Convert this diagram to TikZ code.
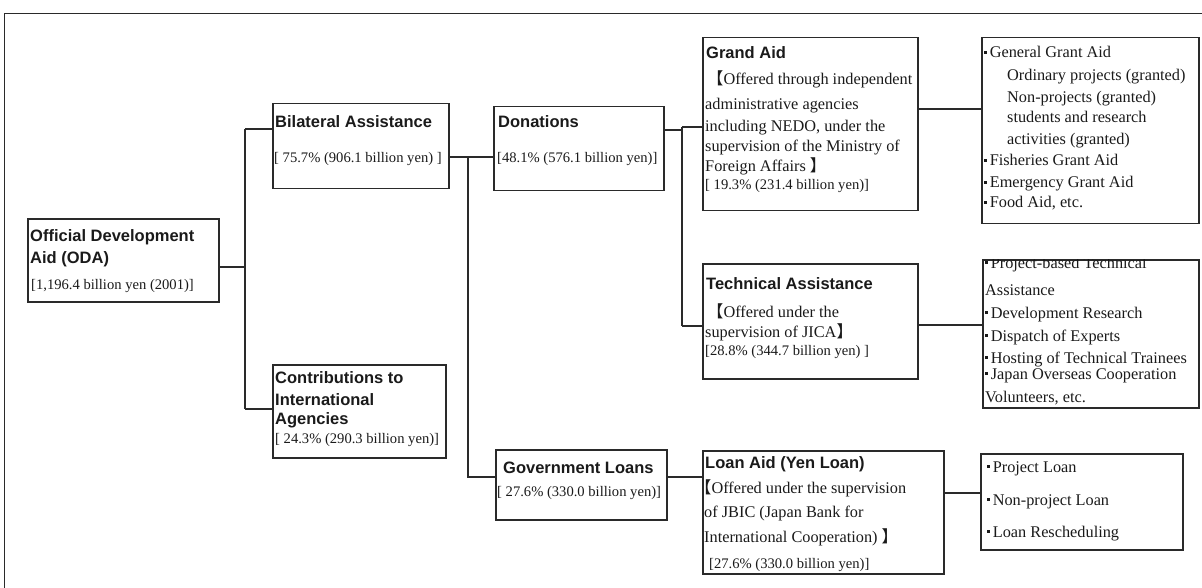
\documentclass[tikz,border=0pt]{standalone}
\usepackage{fontspec}
\setmainfont{Liberation Serif}
\setsansfont{Liberation Sans}
\newfontfamily\cjk{Noto Sans CJK JP}
\newcommand\mybul{\raisebox{4.3pt}{\rule{3pt}{3pt}}\hspace{2.6pt}}
\newcommand\lb{{\cjk 【}}
\newcommand\rb{{\cjk 】}}
\definecolor{ink}{HTML}{1A1A1A}
\definecolor{ln}{HTML}{2A2A2A}
\tikzset{
  box/.style={draw=ln, line width=1.5pt, inner sep=0pt, anchor=north west},
  conn/.style={draw=ln, line width=1.2pt},
  ttl/.style={font=\sffamily\bfseries\fontsize{16.5}{20}\selectfont, text=ink, inner sep=0pt, anchor=base west},
  dsc/.style={font=\fontsize{16.3}{20}\selectfont, text=ink, inner sep=0pt, anchor=base west},
  pct/.style={font=\fontsize{14.6}{18}\selectfont, text=ink, inner sep=0pt, anchor=base west},
  lst/.style={font=\fontsize{16.3}{20}\selectfont, text=ink, inner sep=0pt, anchor=base west}
}
\begin{document}
\begin{tikzpicture}[x=1pt,y=-1pt]
\useasboundingbox (0,0) rectangle (1202,588);
\clip (0,0) rectangle (1202,588);
\draw[draw=ln, line width=0.9pt] (4,13) rectangle (1215,600);

% boxes
\node[box, line width=2.4pt, minimum width=191pt, minimum height=83pt] (oda) at (27,218) {};
\node[box, minimum width=176pt, minimum height=85pt] (bil) at (272,103) {};
\node[box, minimum width=173pt, minimum height=93pt] (con) at (272,364) {};
\node[box, minimum width=170pt, minimum height=84pt] (don) at (493,106) {};
\node[box, minimum width=171pt, minimum height=70pt] (gov) at (495,449) {};
\node[box, minimum width=215pt, minimum height=173pt] (grand) at (702,37) {};
\node[box, minimum width=215pt, minimum height=115pt] (tech) at (702,263) {};
\node[box, minimum width=241pt, minimum height=123pt] (loan) at (702,450) {};
\node[box, minimum width=217pt, minimum height=186pt] (l1) at (981,37) {};
\node[box, minimum width=216pt, minimum height=148pt] (l2) at (982,259) {};
\node[box, minimum width=202pt, minimum height=96pt] (l3) at (980,453) {};

% connectors
\coordinate (j0) at (245,267);
\coordinate (b1t) at (245,129);
\coordinate (b1b) at (245,409);
\coordinate (b2t) at (468,157);
\coordinate (b2b) at (468,477);
\coordinate (d3) at (682,130);
\coordinate (b3t) at (682,127);
\coordinate (b3b) at (682,326);
\coordinate (c1) at (950,109);
\coordinate (c2) at (950,325);
\coordinate (c3) at (960,493);
\draw[conn] (oda.east |- j0) -- (j0);
\draw[conn] (b1t) -- (b1b);
\draw[conn] (b1t) -- (b1t -| bil.west);
\draw[conn] (b1b) -- (b1b -| con.west);
\draw[conn] (bil.east |- b2t) -- (don.west |- b2t);
\draw[conn] (b2t) -- (b2b) -- (gov.west |- b2b);
\draw[conn] (gov.east |- b2b) -- (loan.west |- b2b);
\draw[conn] (don.east |- d3) -- (d3);
\draw[conn] (b3t) -- (b3b);
\draw[conn] (b3t) -- (b3t -| grand.west);
\draw[conn] (b3b) -- (b3b -| tech.west);
\draw[conn] (grand.east |- c1) -- (l1.west |- c1);
\draw[conn] (tech.east |- c2) -- (l2.west |- c2);
\draw[conn] (loan.east |- c3) -- (l3.west |- c3);

% texts
\node[ttl] (t-oda1) at (30,241) {Official Development};
\node[ttl] (t-oda2) at (30,263) {Aid (ODA)};
\node[pct] (t-oda3) at (31,289) {[1,196.4 billion yen (2001)]};

\node[ttl] (t-bil1) at (275,128) {Bilateral Assistance};
\node[pct] (t-bil2) at (274,163) {[ 75.7\% (906.1 billion yen) ]};

\node[ttl] (t-don1) at (498,128) {Donations};
\node[pct] (t-don2) at (497,163) {[48.1\% (576.1 billion yen)]};

\node[ttl] (t-con1) at (275,383) {Contributions to};
\node[ttl] (t-con2) at (275,405) {International};
\node[ttl] (t-con3) at (275,424) {Agencies};
\node[pct] (t-con4) at (275,443) {[ 24.3\% (290.3 billion yen)]};

\node[ttl] (t-gov1) at (503,473) {Government Loans};
\node[pct] (t-gov2) at (497,496) {[ 27.6\% (330.0 billion yen)]};

\node[ttl] (t-gr1) at (706,59) {Grand Aid};
\node[dsc] (t-gr2) at (707,85) {\lb Offered through independent};
\node[dsc] (t-gr3) at (705,110) {administrative agencies};
\node[dsc] (t-gr4) at (705,132) {including NEDO, under the};
\node[dsc] (t-gr5) at (705,152) {supervision of the Ministry of};
\node[dsc] (t-gr6) at (705,172) {Foreign Affairs \rb};
\node[pct] (t-gr7) at (705,190) {[ 19.3\% (231.4 billion yen)]};

\node[ttl] (t-te1) at (706,289) {Technical Assistance};
\node[dsc] (t-te2) at (707,317) {\lb Offered under the};
\node[dsc] (t-te3) at (705,337) {supervision of JICA\rb};
\node[pct] (t-te4) at (705,355) {[28.8\% (344.7 billion yen) ]};

\node[ttl] (t-lo1) at (705,468) {Loan Aid (Yen Loan)};
\node[dsc] (t-lo2) at (695,493) {\lb Offered under the supervision};
\node[dsc] (t-lo3) at (704,517) {of JBIC (Japan Bank for};
\node[dsc] (t-lo4) at (704,542) {International Cooperation) \rb};
\node[pct] (t-lo5) at (709,568) {[27.6\% (330.0 billion yen)]};

\node[lst] (t-l1a) at (984,58) {\mybul General Grant Aid};
\node[lst] (t-l1b) at (1007,81) {Ordinary projects (granted)};
\node[lst] (t-l1c) at (1007,103) {Non-projects (granted)};
\node[lst] (t-l1d) at (1007,123) {students and research};
\node[lst] (t-l1e) at (1007,145) {activities (granted)};
\node[lst] (t-l1f) at (984,166) {\mybul Fisheries Grant Aid};
\node[lst] (t-l1g) at (984,188) {\mybul Emergency Grant Aid};
\node[lst] (t-l1h) at (984,208) {\mybul Food Aid, etc.};

\begin{scope}
\clip (l2.north west) rectangle (l2.south east);
\node[lst] (t-l2a) at (985,268) {\mybul Project-based Technical};
\node[lst] (t-l2b) at (985,295) {Assistance};
\node[lst] (t-l2c) at (985,318) {\mybul Development Research};
\node[lst] (t-l2d) at (985,341) {\mybul Dispatch of Experts};
\node[lst] (t-l2e) at (985,363) {\mybul Hosting of Technical Trainees};
\node[lst] (t-l2f) at (985,379) {\mybul Japan Overseas Cooperation};
\node[lst] (t-l2g) at (985,402) {Volunteers, etc.};
\end{scope}

\node[lst] (t-l3a) at (987,472) {\mybul Project Loan};
\node[lst] (t-l3b) at (987,505) {\mybul Non-project Loan};
\node[lst] (t-l3c) at (987,537) {\mybul Loan Rescheduling};
\end{tikzpicture}
\end{document}
